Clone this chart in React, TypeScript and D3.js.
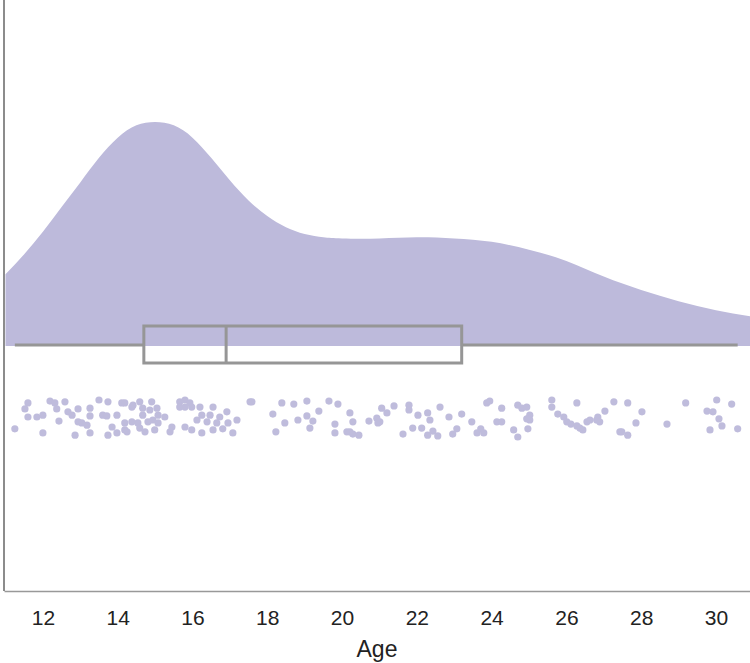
import React, { useRef, useEffect } from 'react';
import * as d3 from 'd3';

// jittered scatter: [age, jitter 0..1]
const points: [number, number][] = [
  [11.25, .78], [11.60, .08], [11.52, .24], [11.60, .46], [11.84, .46], [12.00, .41], [12.00, .89],
  [12.19, .03], [12.32, .08], [12.37, .24], [12.59, .05], [12.43, .57], [12.67, .32], [12.78, .41],
  [12.94, .24], [12.94, .59], [13.04, .62], [13.18, .68], [12.86, .95], [13.26, .22], [13.26, .43],
  [13.26, .89], [13.50, 0], [13.74, .05], [13.60, .41], [13.71, .43], [13.98, .41], [13.85, .73],
  [13.74, .95], [13.98, .89], [14.11, .08], [14.19, .62], [14.25, .86],
  [14.19, .08], [14.38, .19], [14.41, .14], [14.59, .05], [14.67, .22], [14.91, .05], [14.67, .41],
  [14.86, .27], [15.05, .22], [15.08, .41], [15.26, .46], [14.94, .54], [14.81, .59], [15.08, .62],
  [14.54, .62], [14.38, .59], [14.59, .76], [14.73, .86], [14.99, .81], [14.19, .81], [15.45, .73],
  [15.40, .86], [15.66, .05], [15.80, 0], [15.93, .08], [15.66, .19], [15.80, .19], [15.98, .19],
  [16.20, .19], [16.55, .19], [16.92, .32], [16.25, .41], [16.47, .41], [16.73, .46], [16.12, .54],
  [16.39, .59], [16.65, .62], [16.95, .62], [17.19, .54], [15.80, .73], [15.98, .81], [16.55, .81],
  [16.81, .78], [16.25, .89], [17.08, .89], [17.54, .05],
  [17.59, .05], [18.39, .08], [18.71, .11], [19.06, .03], [19.65, .03], [19.89, .11], [18.15, .38],
  [19.38, .30], [20.21, .35], [19.06, .43], [18.82, .54], [19.22, .57], [18.47, .62], [19.81, .65],
  [20.29, .59], [20.72, .57], [20.93, .49], [20.96, .62], [19.14, .76], [18.23, .86], [19.81, .89],
  [20.13, .86], [20.21, .86], [20.29, .92], [20.45, .95],
  [21.06, .22], [21.20, .35], [21.39, .16], [21.79, .14], [21.79, .27], [22.03, .41], [22.29, .35],
  [22.62, .19], [22.86, .46], [23.20, .38], [23.47, .59], [23.87, .08], [23.95, .03], [24.27, .22],
  [21.01, .59], [22.35, .54], [21.89, .76], [22.13, .76], [21.63, .92], [22.29, .95], [22.43, .84],
  [22.56, .97], [22.96, .92], [23.07, .78], [23.61, .89], [23.71, .78], [23.79, .89], [24.14, .59],
  [24.27, .59],
  [24.70, .14], [24.81, .22], [24.94, .19], [25.02, .41], [25.02, .54], [24.94, .51], [24.59, .81],
  [24.70, 1.0], [24.97, .78], [25.61, 0], [25.61, .19], [25.77, .38], [25.93, .46], [26.01, .59],
  [26.12, .65], [26.28, .08], [26.28, .70], [26.36, .76], [26.44, .81], [26.55, .59], [26.63, .54],
  [26.81, .54], [26.84, .46], [26.89, .59], [27.03, .30], [27.27, .05], [27.43, .86], [27.64, .08],
  [27.64, .95],
  [28.02, .32], [27.86, .62], [27.48, .86], [28.69, .65], [29.19, .08], [29.76, .30], [29.92, .32],
  [30.02, 0], [30.08, .51], [30.16, .70], [30.42, .11], [29.84, .81], [30.58, .78],
];

// density curve (relative to peak)
const densityAges = [11, 11.5, 12, 12.5, 13, 13.5, 14, 14.5, 15, 15.5, 16, 16.5, 17, 17.5, 18, 18.5,
  19, 19.5, 20, 21, 22, 23, 24, 25, 26, 27, 28, 29, 30, 31];
const densityValues = [.32, .41, .51, .62, .73, .84, .93, .985, 1.0, .985, .93, .84, .74, .65, .58, .53,
  .50, .485, .48, .48, .485, .48, .465, .43, .38, .31, .25, .20, .16, .13];

// box stats
const boxStats = { min: 11.25, q1: 14.7, median: 16.9, q3: 23.2, max: 30.58 };
const xTicks = [12, 14, 16, 18, 20, 22, 24, 26, 28, 30];

export default function App() {
  const ref = useRef<SVGSVGElement>(null);
  const width = 750;
  const height = 663;

  useEffect(() => {
    const svg = d3.select(ref.current);
    svg.selectAll('*').remove();

    const left = 4, right = 750, bottom = 591;
    const x = d3.scaleLinear().domain([10.96, 30.91]).range([left, right]);
    const yDens = d3.scaleLinear().domain([0, 1]).range([346, 122]);
    const yJit = d3.scaleLinear().domain([0, 1]).range([400, 437]);
    const fill = '#bdbadb';
    const gray = '#969696';
    const font = '"Liberation Sans Narrow", "Liberation Sans", Arial, sans-serif';

    const dens = densityAges.map((a, i) => ({ a, v: densityValues[i] }));
    const area = d3.area<{ a: number; v: number }>()
      .x(d => x(d.a))
      .y0(yDens(0))
      .y1(d => yDens(d.v))
      .curve(d3.curveNatural);

    svg.append('path')
      .datum(dens)
      .attr('fill', fill)
      .attr('d', area);

    // box + whiskers
    const yMid = 345;
    svg.append('line')
      .attr('x1', x(boxStats.min)).attr('x2', x(boxStats.q1))
      .attr('y1', yMid).attr('y2', yMid)
      .attr('stroke', gray).attr('stroke-width', 3);
    svg.append('line')
      .attr('x1', x(boxStats.q3)).attr('x2', x(boxStats.max))
      .attr('y1', yMid).attr('y2', yMid)
      .attr('stroke', gray).attr('stroke-width', 3);
    svg.append('rect')
      .attr('x', x(boxStats.q1)).attr('y', 326)
      .attr('width', x(boxStats.q3) - x(boxStats.q1)).attr('height', 37)
      .attr('fill', 'none').attr('stroke', gray).attr('stroke-width', 3);
    svg.append('line')
      .attr('x1', x(boxStats.median)).attr('x2', x(boxStats.median))
      .attr('y1', 326).attr('y2', 363)
      .attr('stroke', gray).attr('stroke-width', 3);

    // rain
    svg.append('g')
      .selectAll('circle')
      .data(points)
      .join('circle')
      .attr('cx', d => x(d[0]))
      .attr('cy', d => yJit(d[1]))
      .attr('r', 3.6)
      .attr('fill', '#bfbcdc');

    // axes
    const xAxis = svg.append('g')
      .attr('transform', `translate(0,${bottom})`)
      .call(d3.axisBottom(x).tickValues(xTicks).tickSize(0).tickPadding(19));
    xAxis.select('.domain').attr('stroke', '#999').attr('stroke-width', 1.5);
    xAxis.selectAll('text')
      .attr('fill', '#222')
      .style('font-family', font)
      .style('font-size', '21px');

    svg.append('line')
      .attr('x1', left).attr('x2', left)
      .attr('y1', 0).attr('y2', bottom)
      .attr('stroke', '#666').attr('stroke-width', 1.5);

    svg.append('text')
      .attr('x', (left + right) / 2)
      .attr('y', 657)
      .attr('text-anchor', 'middle')
      .attr('fill', '#222')
      .style('font-family', font)
      .style('font-size', '23px')
      .text('Age');
  }, []);

  return (
    <svg ref={ref} width={width} height={height}
      style={{ position: 'absolute', left: 0, top: 0, display: 'block' }} />
  );
}
